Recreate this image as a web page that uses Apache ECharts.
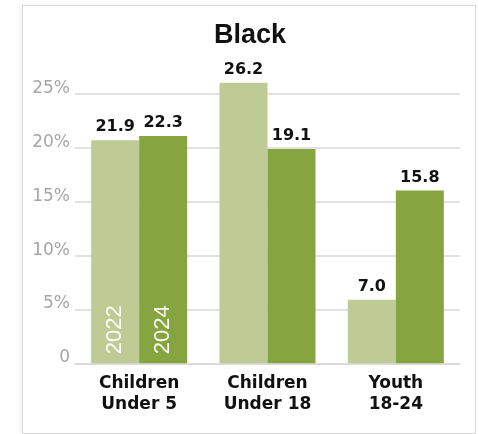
<!DOCTYPE html>
<html>
<head>
<meta charset="utf-8">
<script src="https://cdn.jsdelivr.net/npm/echarts@6/dist/echarts.min.js"></script>
<style>
  html, body { margin: 0; padding: 0; background: #ffffff; }
  #card { position: absolute; left: 22px; top: 5px; width: 452px; height: 427px; border: 1px solid #d9d9d9; box-shadow: -2px 0 6px rgba(0,0,0,0.06); background: #fff; }
  #chart { position: absolute; left: 0; top: 0; width: 479px; height: 434px; }
</style>
</head>
<body>
<div id="card"></div>
<div id="chart"></div>
<script>
// Categories (x-axis)
const categories = ['Children\nUnder 5', 'Children\nUnder 18', 'Youth\n18-24'];
// Series names
const seriesNames = ['2022', '2024'];
// Bar heights as drawn in the picture (%)
const values2022 = [20.7, 26.05, 5.9];
const values2024 = [21.1, 19.9, 16.05];
// Printed value labels
const labels2022 = ['21.9', '26.2', '7.0'];
const labels2024 = ['22.3', '19.1', '15.8'];
// Year labels shown inside first group's bars
const yearMarker2022 = [0, '-', '-'];
const yearMarker2024 = [0, '-', '-'];
// Y-axis ticks
const yMin = 0, yMax = 27.5, yStep = 5;

const colors = ['#bfcb95', '#86a540'];

const chart = echarts.init(document.getElementById('chart'), null, { renderer: 'canvas' });

const valueLabel = (arr) => ({
  show: true,
  position: 'top',
  distance: 5,
  formatter: (p) => arr[p.dataIndex],
  fontFamily: 'DejaVu Sans',
  fontWeight: 'bold',
  fontSize: 16,
  color: '#111111'
});

const yearLabel = (name) => ({
  show: true,
  position: 'insideBottom',
  distance: 9,
  rotate: 90,
  align: 'left',
  verticalAlign: 'middle',
  formatter: name,
  fontFamily: 'Liberation Sans',
  fontSize: 22,
  color: 'rgba(255,255,255,0.95)'
});

chart.setOption({
  animation: false,
  backgroundColor: 'transparent',
  title: {
    text: 'Black',
    left: 209,
    top: 17,
    textStyle: { fontFamily: 'Liberation Sans', fontWeight: 'bold', fontSize: 27, color: '#111111' }
  },
  grid: { left: 75, right: 19, top: 67.1, bottom: 70.7 },
  xAxis: {
    type: 'category',
    data: categories,
    axisLine: { show: true, lineStyle: { color: '#d9d9d9', width: 1.5 } },
    axisTick: { show: false },
    axisLabel: {
      margin: 9,
      fontFamily: 'DejaVu Sans',
      fontWeight: 'bold',
      fontSize: 17,
      lineHeight: 21.7,
      color: '#111111'
    }
  },
  yAxis: {
    type: 'value',
    min: yMin,
    max: yMax,
    interval: yStep,
    axisLine: { show: false },
    axisTick: { show: false },
    splitLine: { show: true, showMaxLine: false, lineStyle: { color: '#d9d9d9', width: 1.5 } },
    axisLabel: {
      showMaxLabel: false,
      margin: 5,
      fontFamily: 'DejaVu Sans',
      fontSize: 17,
      color: '#a6a6a6',
      verticalAlign: 'bottom',
      lineHeight: 11,
      formatter: (v) => (v === 0 ? '0' : v + '%')
    }
  },
  series: [
    {
      name: seriesNames[0] + ' marker',
      type: 'bar',
      stack: 's2022',
      data: yearMarker2022,
      barWidth: 48,
      barGap: '0%',
      itemStyle: { color: 'transparent' },
      label: yearLabel(seriesNames[0]),
      z: 5
    },
    {
      name: seriesNames[0],
      type: 'bar',
      stack: 's2022',
      data: values2022,
      barWidth: 48,
      barGap: '0%',
      itemStyle: { color: colors[0] },
      label: valueLabel(labels2022)
    },
    {
      name: seriesNames[1] + ' marker',
      type: 'bar',
      stack: 's2024',
      data: yearMarker2024,
      barWidth: 48,
      barGap: '0%',
      itemStyle: { color: 'transparent' },
      label: yearLabel(seriesNames[1]),
      z: 5
    },
    {
      name: seriesNames[1],
      type: 'bar',
      stack: 's2024',
      data: values2024,
      barWidth: 48,
      barGap: '0%',
      itemStyle: { color: colors[1] },
      label: valueLabel(labels2024)
    }
  ]
});
</script>
</body>
</html>
